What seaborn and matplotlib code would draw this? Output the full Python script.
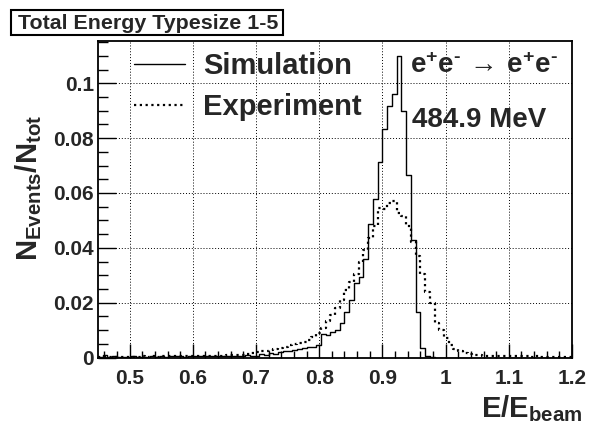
import numpy as np
import pandas as pd
import matplotlib
matplotlib.use("Agg")
import matplotlib.pyplot as plt
import seaborn as sns
from matplotlib.patches import Rectangle
from matplotlib.ticker import MultipleLocator, FixedLocator, FixedFormatter

# ---------------- data ----------------
x_min, x_max, n_bins = 0.45, 1.2, 100

simulation = [
    0.0003, 0.0008, 0.0002, 0.0004, 0.0002, 0.0003, 0.0002, 0.0004, 0.0003, 0.0002,
    0.0003, 0.0004, 0.0003, 0.0005, 0.0003, 0.0004, 0.0004, 0.0005, 0.0003, 0.0005,
    0.0004, 0.0006, 0.0004, 0.0005, 0.0006, 0.0004, 0.0007, 0.0005, 0.0006, 0.0007,
    0.0006, 0.0008, 0.0007, 0.0006, 0.0012, 0.0010, 0.0016, 0.0014, 0.0020, 0.0022,
    0.0025, 0.0028, 0.0031, 0.0034, 0.0038, 0.0040, 0.0046, 0.0085, 0.0082, 0.0092,
    0.0102, 0.0125, 0.0165, 0.0209, 0.0270, 0.0294, 0.0360, 0.0485, 0.0579, 0.0712,
    0.0833, 0.0918, 0.0961, 0.1100, 0.0900, 0.0664, 0.0427, 0.0167, 0.0033, 0.0005,
    0.0002, 0.0, 0.0, 0.0, 0.0, 0.0, 0.0, 0.0, 0.0, 0.0,
    0.0, 0.0, 0.0, 0.0, 0.0, 0.0, 0.0, 0.0, 0.0, 0.0,
    0.0, 0.0, 0.0, 0.0, 0.0, 0.0, 0.0, 0.0, 0.0, 0.0,
]

experiment = [
    0.0002, 0.0003, 0.0002, 0.0003, 0.0002, 0.0003, 0.0003, 0.0002, 0.0003, 0.0004,
    0.0003, 0.0004, 0.0003, 0.0004, 0.0004, 0.0005, 0.0004, 0.0005, 0.0004, 0.0005,
    0.0005, 0.0006, 0.0005, 0.0006, 0.0006, 0.0007, 0.0007, 0.0008, 0.0008, 0.0009,
    0.0010, 0.0012, 0.0015, 0.0019, 0.0023, 0.0025, 0.0028, 0.0031, 0.0036, 0.0040,
    0.0045, 0.0050, 0.0054, 0.0058, 0.0064, 0.0076, 0.0090, 0.0108, 0.0132, 0.0155,
    0.0179, 0.0209, 0.0245, 0.0276, 0.0306, 0.0348, 0.0391, 0.0435, 0.0480, 0.0545,
    0.0540, 0.0565, 0.0570, 0.0527, 0.0515, 0.0480, 0.0420, 0.0370, 0.0306, 0.0238,
    0.0198, 0.0125, 0.0100, 0.0071, 0.0045, 0.0030, 0.0022, 0.0017, 0.0012, 0.0010,
    0.0008, 0.0007, 0.0006, 0.0006, 0.0005, 0.0005, 0.0004, 0.0005, 0.0004, 0.0004,
    0.0004, 0.0003, 0.0004, 0.0003, 0.0003, 0.0003, 0.0002, 0.0003, 0.0002, 0.0002,
]

series_labels = ["Simulation", "Experiment"]
title_text = "Total Energy Typesize 1-5"
process_text = r"$\mathbf{e^{+}e^{\text{-}}\,\rightarrow\,e^{+}e^{\text{-}}}$"
energy_text = "484.9 MeV"
x_ticks = [0.5, 0.6, 0.7, 0.8, 0.9, 1.0, 1.1, 1.2]
x_tick_labels = ["0.5", "0.6", "0.7", "0.8", "0.9", "1", "1.1", "1.2"]
y_ticks = [0.0, 0.02, 0.04, 0.06, 0.08, 0.1]
y_tick_labels = ["0", "0.02", "0.04", "0.06", "0.08", "0.1"]
y_top = 0.1154
x_label = r"$\mathbf{E/E_{beam}}$"
y_label = r"$\mathbf{N_{Events}/N_{tot}}$"

# ---------------- style ----------------
sns.set_style("white")
plt.rcParams["font.family"] = ["Liberation Sans", "DejaVu Sans"]
plt.rcParams["font.weight"] = "bold"
plt.rcParams["mathtext.fontset"] = "custom"
plt.rcParams["mathtext.rm"] = "Liberation Sans:bold"
plt.rcParams["mathtext.bf"] = "Liberation Sans:bold"
plt.rcParams["mathtext.it"] = "Liberation Sans:bold"
plt.rcParams["mathtext.sf"] = "Liberation Sans:bold"

edges = np.linspace(x_min, x_max, n_bins + 1)
centers = 0.5 * (edges[:-1] + edges[1:])
df = pd.DataFrame({
    "x": np.concatenate([centers, centers]),
    "w": np.concatenate([simulation, experiment]),
    "series": [series_labels[0]] * n_bins + [series_labels[1]] * n_bins,
})

W, H = 589, 425
fig = plt.figure(figsize=(W / 100, H / 100), dpi=100)
ax = fig.add_axes([98 / W, 1 - 357.5 / H, (572 - 98) / W, (357.5 - 41) / H])

sns.histplot(data=df[df.series == series_labels[0]], x="x", weights="w",
             bins=n_bins, binrange=(x_min, x_max),
             element="step", fill=False, color="black", linewidth=1.0,
             label=series_labels[0], ax=ax)
sns.histplot(data=df[df.series == series_labels[1]], x="x", weights="w",
             bins=n_bins, binrange=(x_min, x_max),
             element="step", fill=False, color="black", linewidth=1.6,
             linestyle=(0, (1, 1.6)), label=series_labels[1], ax=ax)

ax.set_xlim(x_min, x_max)
ax.set_ylim(0, y_top)

ax.xaxis.set_major_locator(FixedLocator(x_ticks))
ax.xaxis.set_major_formatter(FixedFormatter(x_tick_labels))
ax.xaxis.set_minor_locator(MultipleLocator(0.02))
ax.yaxis.set_major_locator(FixedLocator(y_ticks))
ax.yaxis.set_major_formatter(FixedFormatter(y_tick_labels))
ax.yaxis.set_minor_locator(MultipleLocator(0.005))

ax.tick_params(axis="both", which="both", direction="in", color="black",
               bottom=True, left=True, top=False, right=False,
               labelsize=15, width=1.0)
ax.tick_params(axis="x", which="major", length=10, pad=8)
ax.tick_params(axis="x", which="minor", length=5)
ax.tick_params(axis="y", which="major", length=13, pad=3)
ax.tick_params(axis="y", which="minor", length=7)
for lab in ax.get_xticklabels() + ax.get_yticklabels():
    lab.set_fontweight("bold")

ax.grid(True, which="major", color="black", linestyle=(0, (1, 2)), linewidth=0.7)
ax.set_axisbelow(True)
for sp in ax.spines.values():
    sp.set_visible(True)
    sp.set_color("black")
    sp.set_linewidth(1.3)

ax.set_xlabel(x_label, fontsize=21)
ax.xaxis.set_label_coords((582 - 98) / 474, (357.5 - 393) / 316.5)
ax.xaxis.label.set_ha("right")
ax.xaxis.label.set_va("top")

ax.set_ylabel(y_label, fontsize=21)
ax.yaxis.set_label_coords((29 - 98) / 474, (357.5 - 188) / 316.5)
ax.yaxis.label.set_ha("center")
ax.yaxis.label.set_va("center")

leg = ax.legend(loc="upper left", bbox_to_anchor=((134 - 98) / 474, (357.5 - 52) / 316.5),
                frameon=False, prop={"weight": "bold", "size": 21},
                handlelength=1.75, handletextpad=0.62, labelspacing=0.45,
                borderpad=0, borderaxespad=0)

ax.text((410 - 98) / 474, (357.5 - 73) / 316.5, process_text, transform=ax.transAxes,
        fontsize=20, ha="left", va="baseline")
ax.text((412 - 98) / 474, (357.5 - 127) / 316.5, energy_text, transform=ax.transAxes,
        fontsize=20, fontweight="bold", ha="left", va="baseline")

# title box (pave)
fig.patches.append(Rectangle((11 / W, 1 - 35 / H), (283 - 11) / W, 25 / H,
                             transform=fig.transFigure, facecolor="white",
                             edgecolor="black", linewidth=1.5))
fig.text(18 / W, 1 - 29 / H, title_text, fontsize=15.4, fontweight="bold",
         ha="left", va="baseline")

fig.savefig("out.png", dpi=100, facecolor="white")
